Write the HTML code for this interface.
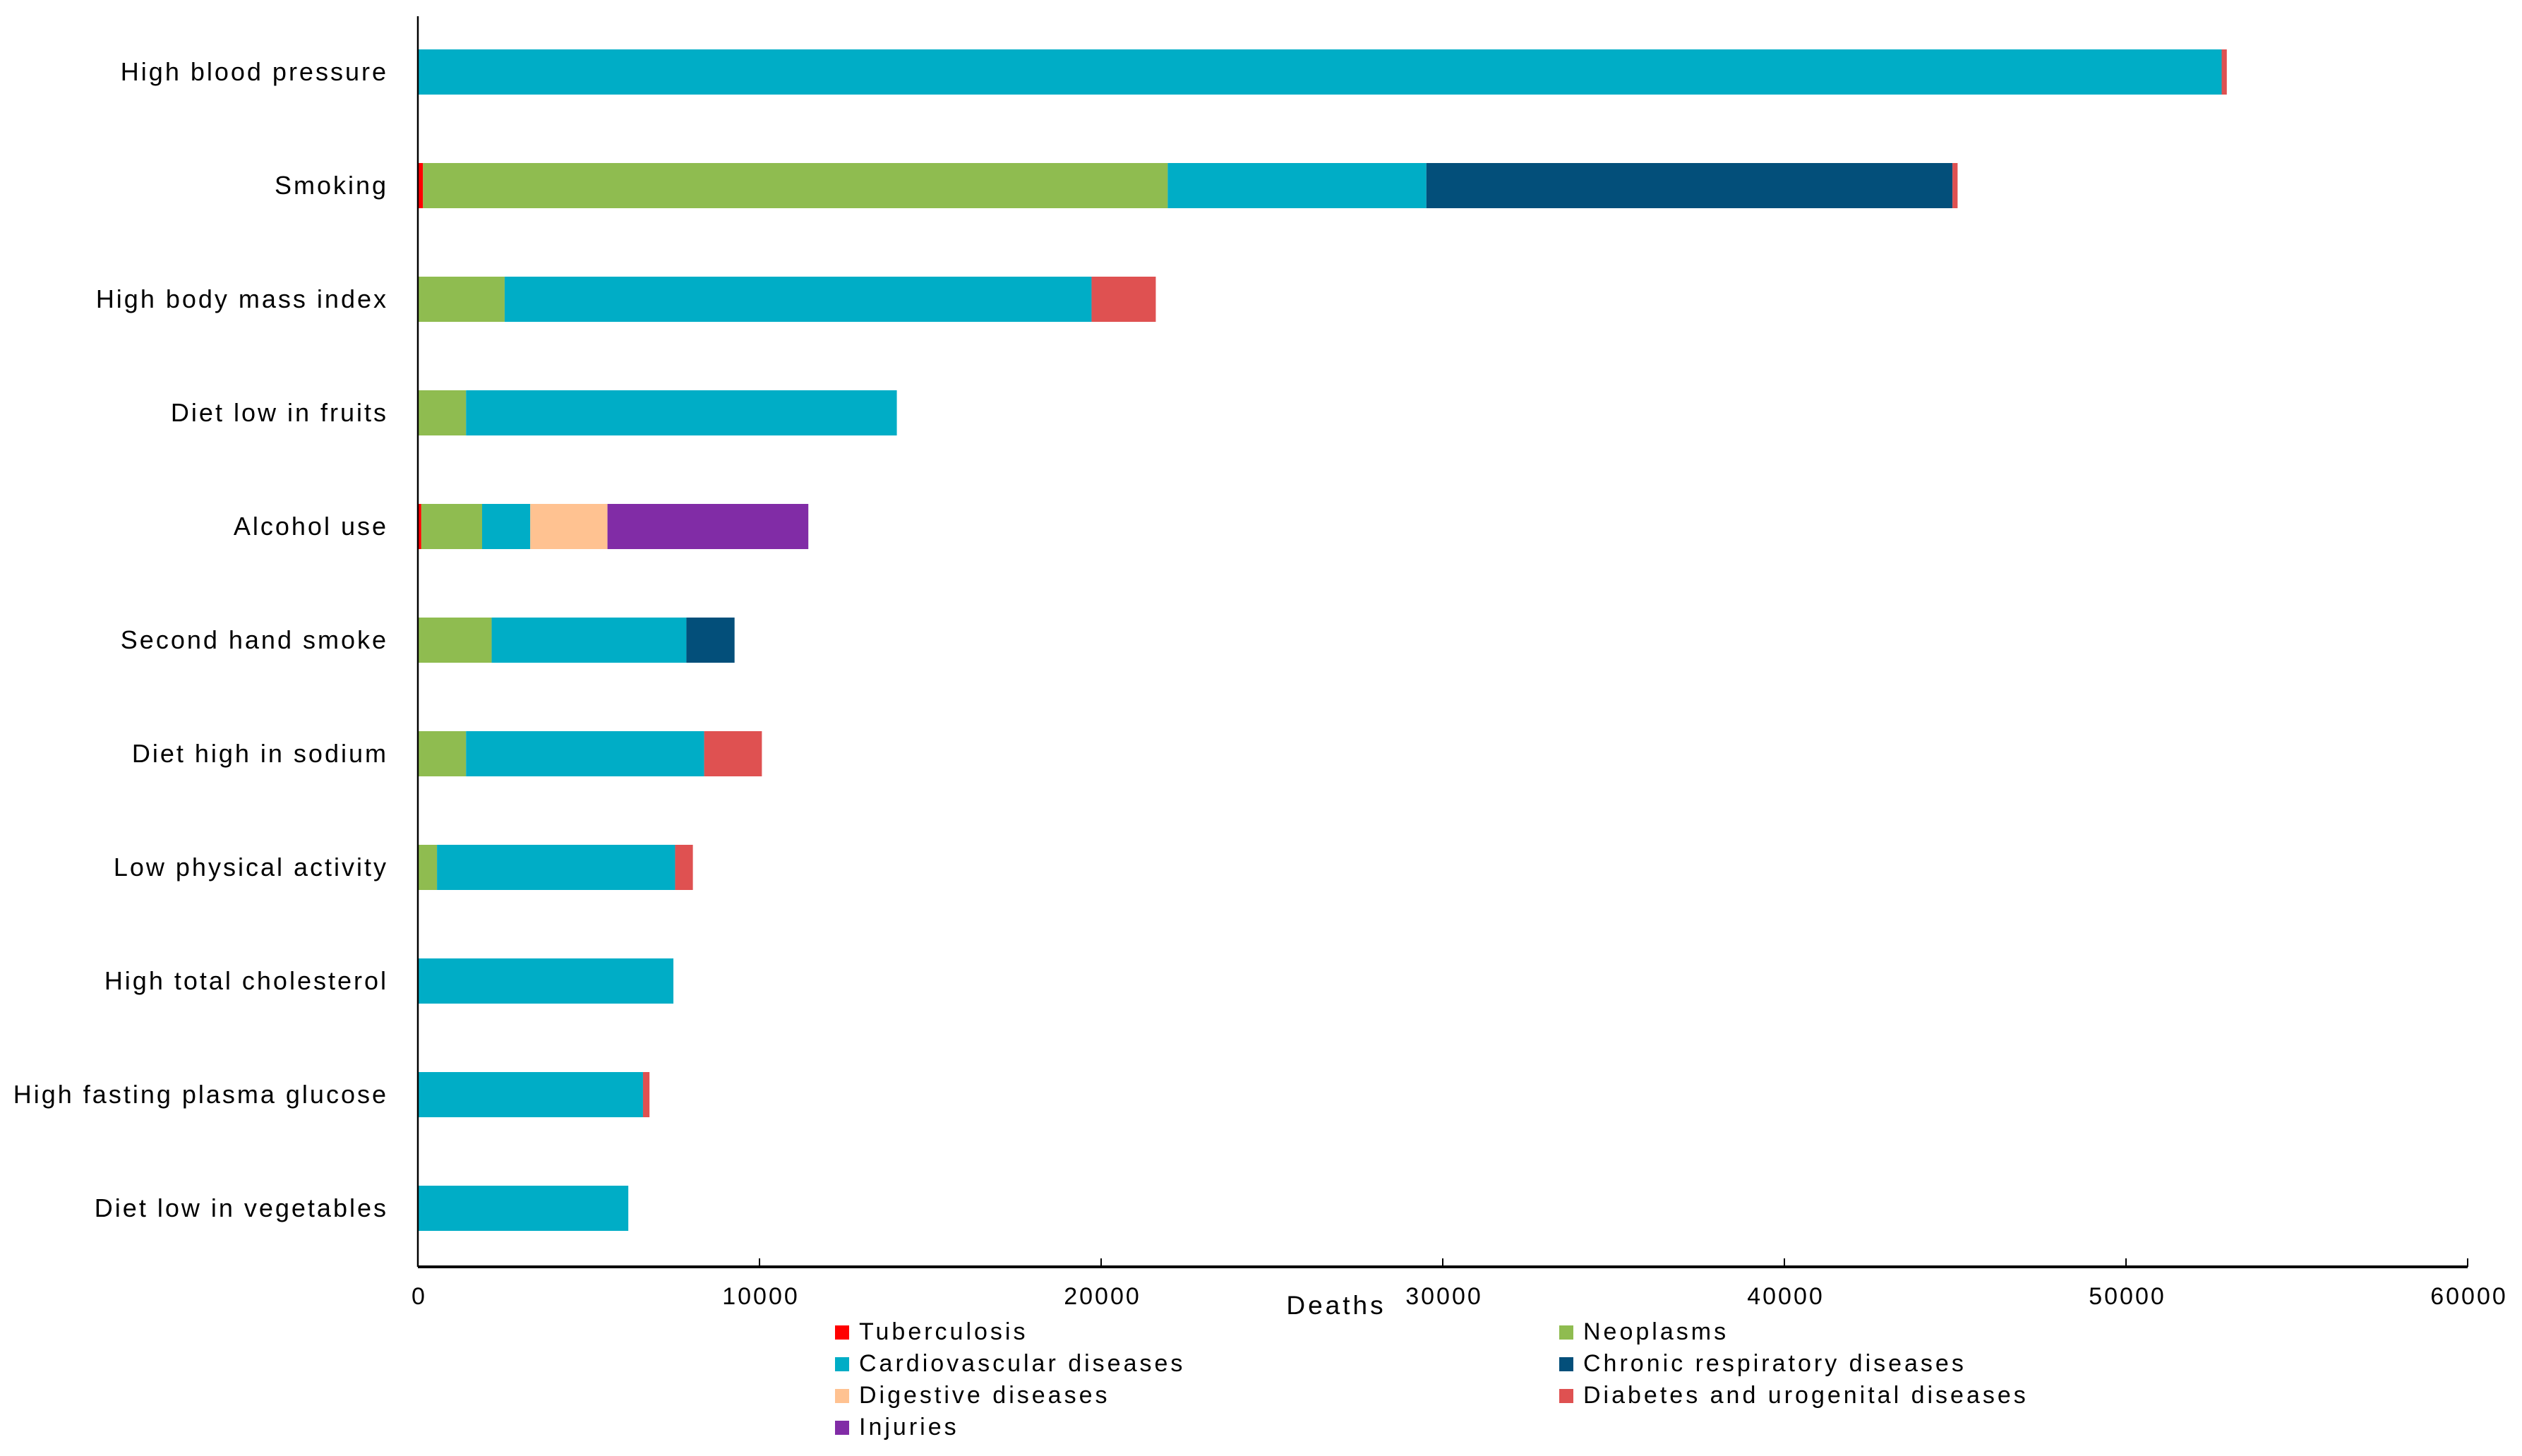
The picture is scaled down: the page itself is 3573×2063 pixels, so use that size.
<!DOCTYPE html>
<html><head><meta charset="utf-8"><style>
html,body{margin:0;padding:0;background:#fff;}
svg{display:block;font-family:"Liberation Sans",sans-serif;}
</style></head><body>
<svg id="chart" width="3573" height="2063" viewBox="0 0 3573 2063"></svg>
<script>
const categories=["High blood pressure","Smoking","High body mass index","Diet low in fruits","Alcohol use","Second hand smoke","Diet high in sodium","Low physical activity","High total cholesterol","High fasting plasma glucose","Diet low in vegetables"];
const seriesNames=["Tuberculosis","Neoplasms","Cardiovascular diseases","Chronic respiratory diseases","Digestive diseases","Diabetes and urogenital diseases","Injuries"];
const seriesColors=["#ff0000","#8fbc50","#00adc6","#034f7a","#ffc291","#df5151","#812ca6"];
const tuberculosis=[0,150,0,0,100,0,0,0,0,0,0];
const neoplasms=[0,21800,2540,1410,1780,2160,1410,560,0,0,0];
const cardiovascular=[52800,7570,17180,12610,1410,5700,6970,6970,7480,6590,6160];
const chronicResp=[0,15400,0,0,0,1410,0,0,0,0,0];
const digestive=[0,0,0,0,2260,0,0,0,0,0,0];
const diabetes=[150,150,1880,0,0,0,1690,520,0,190,0];
const injuries=[0,0,0,0,5880,0,0,0,0,0,0];
const xTicks=[0,10000,20000,30000,40000,50000,60000];
const series=[tuberculosis,neoplasms,cardiovascular,chronicResp,digestive,diabetes,injuries];

const NS="http://www.w3.org/2000/svg";
const svg=document.getElementById('chart');
const X0=592,X1=3496,XMAX=60000,AXY=1795,TOP=23;
const xs=v=>X0+(v/XMAX)*(X1-X0);
const yc=i=>102+i*161;
const BH=64;
function mk(tag,attrs,text){const e=document.createElementNS(NS,tag);for(const k in attrs)e.setAttribute(k,attrs[k]);if(text!==undefined)e.textContent=text;svg.appendChild(e);return e;}

categories.forEach((c,i)=>{
  let acc=0;
  series.forEach((s,j)=>{
    const v=s[i]; if(!v)return;
    const r=mk('rect',{x:xs(acc),y:yc(i)-BH/2,width:xs(acc+v)-xs(acc),height:BH,fill:seriesColors[j]});
    
    
    acc+=v;
  });
  const t=mk('text',{x:550,y:yc(i)+12,'text-anchor':'end','font-size':36,'letter-spacing':3,fill:'#000'},c);
  
  
});

const ya=mk('line',{x1:592,y1:TOP,x2:592,y2:AXY,stroke:'#000','stroke-width':2.5});


const xa=mk('line',{x1:592,y1:AXY,x2:X1,y2:AXY,stroke:'#000','stroke-width':4});


xTicks.forEach(v=>{
  const tk=mk('line',{x1:xs(v),y1:AXY-12,x2:xs(v),y2:AXY,stroke:'#000','stroke-width':2});
  
  
  const tl=mk('text',{x:xs(v)+2,y:1848,'text-anchor':'middle','font-size':34,'letter-spacing':3,fill:'#000'},String(v));
  
  
});
const xt=mk('text',{x:1893,y:1862,'text-anchor':'middle','font-size':37,'letter-spacing':4,fill:'#000'},'Deaths');



const legX=[1183,2209],legY=[1887,1932,1977,2022];
seriesNames.forEach((n,j)=>{
  const col=j%2,row=Math.floor(j/2);
  const g=document.createElementNS(NS,'g');svg.appendChild(g);
  
  
  const r=document.createElementNS(NS,'rect');
  r.setAttribute('x',legX[col]);r.setAttribute('y',legY[row]-9);r.setAttribute('width',20);r.setAttribute('height',20);r.setAttribute('fill',seriesColors[j]);
  
  
  g.appendChild(r);
  const t=document.createElementNS(NS,'text');
  t.setAttribute('x',legX[col]+34);t.setAttribute('y',legY[row]+11);t.setAttribute('font-size',34);t.setAttribute('letter-spacing',4);t.textContent=n;
  
  
  g.appendChild(t);
});
</script>
</body></html>
